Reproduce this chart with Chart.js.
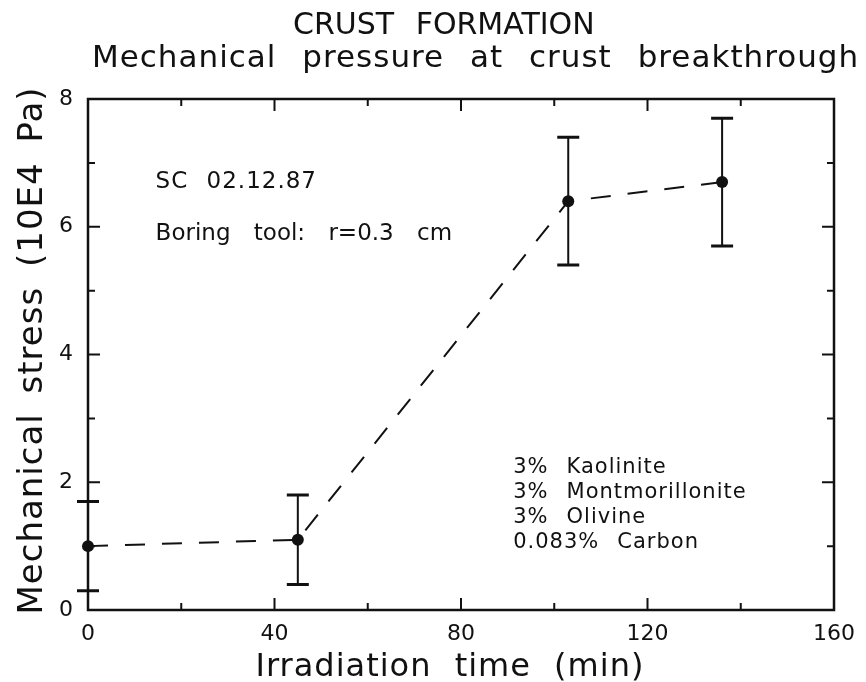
<!DOCTYPE html>
<html>
<head>
<meta charset="utf-8">
<title>Crust formation</title>
<script src="https://cdn.jsdelivr.net/npm/chart.js@4/dist/chart.umd.min.js"></script>
<style>
  html, body { margin: 0; padding: 0; background: #ffffff; }
  #wrap { width: 866px; height: 682px; }
</style>
</head>
<body>
<div id="wrap"><canvas id="c" width="866" height="682"></canvas></div>
<script>
// Measurements: breakthrough pressure vs irradiation time
const timeMin   = [0, 45, 103, 136];
const stress    = [1.0, 1.1, 6.4, 6.7];
const stressErr = [0.7, 0.7, 1.0, 1.0];

// Axis ticks
const xTicks      = [0, 40, 80, 120, 160];
const xMinorTicks = [20, 60, 100, 140];
const yTicks      = [0, 2, 4, 6, 8];
const yMinorTicks = [1, 3, 5, 7];

// Texts
const titleLines   = ['CRUST FORMATION', 'Mechanical pressure at crust breakthrough'];
const xTitle       = 'Irradiation time (min)';
const yTitle       = 'Mechanical stress (10E4 Pa)';
const sampleNotes  = ['SC 02.12.87', 'Boring tool: r=0.3 cm'];
const mixPercent   = ['3%', '3%', '3%', '0.083%'];
const mixMaterial  = ['Kaolinite', 'Montmorillonite', 'Olivine', 'Carbon'];

const INK = '#111111';
const FONT = '"DejaVu Sans", "Liberation Sans", sans-serif';

function drawText(ctx, text, x, y, o) {
  ctx.save();
  ctx.font = o.size + 'px ' + FONT;
  ctx.fillStyle = INK;
  ctx.textAlign = o.align || 'left';
  ctx.textBaseline = 'alphabetic';
  if ('letterSpacing' in ctx) ctx.letterSpacing = (o.ls || 0) + 'px';
  if ('wordSpacing' in ctx) ctx.wordSpacing = (o.ws || 0) + 'px';
  ctx.translate(x, y);
  if (o.rot) ctx.rotate(o.rot);
  ctx.fillText(text, 0, 0);
  ctx.restore();
}

// Frame, inward ticks on all four sides, error bars and text
const plotDecor = {
  id: 'plotDecor',
  afterDatasetsDraw(chart) {
    const { ctx, chartArea: a, scales: { x, y } } = chart;
    ctx.save();
    ctx.strokeStyle = INK;
    ctx.lineCap = 'butt';

    // error bars
    timeMin.forEach((t, i) => {
      const px = x.getPixelForValue(t);
      const yTop = y.getPixelForValue(stress[i] + stressErr[i]);
      const yBot = y.getPixelForValue(stress[i] - stressErr[i]);
      ctx.lineWidth = 2;
      ctx.beginPath();
      ctx.moveTo(px, yTop); ctx.lineTo(px, yBot);
      ctx.stroke();
      ctx.lineWidth = 3;
      ctx.beginPath();
      ctx.moveTo(px - 11, yTop); ctx.lineTo(px + 11, yTop);
      ctx.moveTo(px - 11, yBot); ctx.lineTo(px + 11, yBot);
      ctx.stroke();
    });

    // frame
    ctx.lineWidth = 2.5;
    ctx.strokeRect(a.left, a.top, a.right - a.left, a.bottom - a.top);

    // inward ticks
    ctx.lineWidth = 2;
    ctx.beginPath();
    const xt = xTicks.map(v => [v, 12]).concat(xMinorTicks.map(v => [v, 7]));
    xt.forEach(([v, len]) => {
      const px = x.getPixelForValue(v);
      if (px <= a.left + 1 || px >= a.right - 1) return;
      ctx.moveTo(px, a.bottom); ctx.lineTo(px, a.bottom - len);
      ctx.moveTo(px, a.top);    ctx.lineTo(px, a.top + len);
    });
    const yt = yTicks.map(v => [v, 12]).concat(yMinorTicks.map(v => [v, 7]));
    yt.forEach(([v, len]) => {
      const py = y.getPixelForValue(v);
      if (py <= a.top + 1 || py >= a.bottom - 1) return;
      ctx.moveTo(a.left, py);  ctx.lineTo(a.left + len, py);
      ctx.moveTo(a.right, py); ctx.lineTo(a.right - len, py);
    });
    ctx.stroke();
    ctx.restore();

    // titles
    drawText(ctx, titleLines[0], 293, 34, { size: 30, ws: 12 });
    drawText(ctx, titleLines[1], 92, 67, { size: 31, ls: 1, ws: 15 });

    // axis titles
    drawText(ctx, xTitle, 450, 676, { size: 32, ls: 1, ws: 12, align: 'center' });
    drawText(ctx, yTitle, 42, (a.top + a.bottom) / 2 - 4, { size: 34, ls: 1, ws: 8, align: 'center', rot: -Math.PI / 2 });

    // sample notes (anchored in data units)
    drawText(ctx, sampleNotes[0], x.getPixelForValue(14.5), y.getPixelForValue(6.61), { size: 23, ls: 1, ws: 10 });
    drawText(ctx, sampleNotes[1], x.getPixelForValue(14.5), y.getPixelForValue(5.79), { size: 23, ws: 16 });

    // mixture composition
    const baseY = [2.14, 1.75, 1.36, 0.97];
    ctx.save();
    ctx.font = '21px ' + FONT;
    if ('letterSpacing' in ctx) ctx.letterSpacing = '1px';
    const pctX = x.getPixelForValue(91.2);
    const nameX0 = x.getPixelForValue(102.0);
    mixPercent.forEach((p, i) => {
      const w = ctx.measureText(p).width;
      const nameX = Math.max(nameX0, pctX + w + 18);
      const py = y.getPixelForValue(baseY[i]);
      drawText(ctx, p, pctX, py, { size: 21, ls: 1 });
      drawText(ctx, mixMaterial[i], nameX, py, { size: 21, ls: 1 });
    });
    ctx.restore();
  }
};

new Chart(document.getElementById('c'), {
  type: 'line',
  data: {
    datasets: [{
      data: timeMin.map((t, i) => ({ x: t, y: stress[i] })),
      borderColor: INK,
      borderWidth: 2,
      borderDash: [20, 17],
      pointRadius: 6,
      pointBackgroundColor: INK,
      pointBorderWidth: 0,
      tension: 0,
      clip: false
    }]
  },
  options: {
    responsive: false,
    animation: false,
    devicePixelRatio: 1,
    layout: { padding: { top: 99, right: 27, bottom: 0, left: 0 } },
    plugins: {
      legend: { display: false },
      title: { display: false },
      tooltip: { enabled: false }
    },
    scales: {
      x: {
        type: 'linear', min: 0, max: 160,
        afterBuildTicks: s => { s.ticks = xTicks.map(v => ({ value: v })); },
        afterFit: s => { s.height = 72; },
        grid: { display: false, drawTicks: false },
        border: { display: false },
        ticks: { padding: 11, color: INK, font: { family: FONT, size: 22 } }
      },
      y: {
        type: 'linear', min: 0, max: 8,
        afterBuildTicks: s => { s.ticks = yTicks.map(v => ({ value: v })); },
        afterFit: s => { s.width = 88; },
        grid: { display: false, drawTicks: false },
        border: { display: false },
        ticks: { padding: 15, color: INK, font: { family: FONT, size: 22 } }
      }
    }
  },
  plugins: [plotDecor]
});
</script>
</body>
</html>
